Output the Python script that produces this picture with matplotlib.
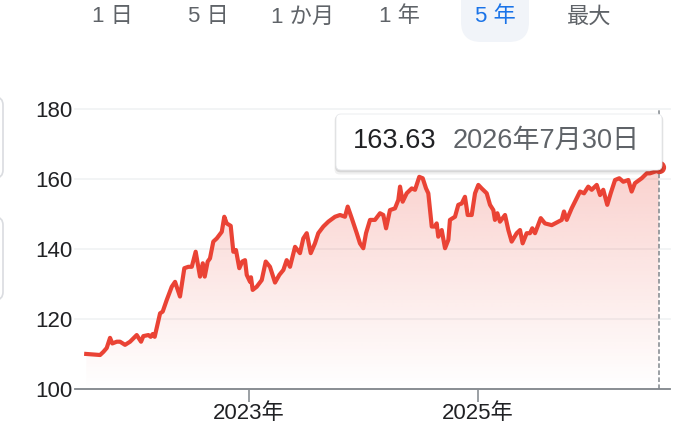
import numpy as np
import matplotlib
matplotlib.use('Agg')
import matplotlib.pyplot as plt
from matplotlib.patches import Polygon, FancyBboxPatch

plt.rcParams['font.family'] = ['Liberation Sans', 'Noto Sans CJK JP']

# price history (decimal year, value)
years = [
    2021.578, 2021.699, 2021.728, 2021.757, 2021.786, 2021.806, 2021.845, 2021.873,
    2021.917, 2021.961, 2022.019, 2022.057, 2022.077, 2022.121, 2022.141, 2022.159,
    2022.176, 2022.223, 2022.246, 2022.281, 2022.325, 2022.354, 2022.397, 2022.435,
    2022.470, 2022.500, 2022.534, 2022.572, 2022.596, 2022.613, 2022.639, 2022.659,
    2022.688, 2022.718, 2022.762, 2022.784, 2022.805, 2022.840, 2022.863, 2022.886,
    2022.915, 2022.941, 2022.965, 2022.980, 2023.009, 2023.017, 2023.032, 2023.067,
    2023.111, 2023.146, 2023.183, 2023.227, 2023.265, 2023.300, 2023.329, 2023.358,
    2023.402, 2023.445, 2023.474, 2023.504, 2023.539, 2023.576, 2023.605, 2023.649,
    2023.693, 2023.751, 2023.795, 2023.838, 2023.862, 2023.897, 2023.941, 2023.969,
    2023.998, 2024.022, 2024.057, 2024.100, 2024.144, 2024.173, 2024.197, 2024.231,
    2024.275, 2024.304, 2024.319, 2024.342, 2024.377, 2024.421, 2024.450, 2024.487,
    2024.517, 2024.546, 2024.566, 2024.596, 2024.624, 2024.639, 2024.653, 2024.683,
    2024.712, 2024.741, 2024.755, 2024.799, 2024.828, 2024.858, 2024.886, 2024.910,
    2024.945, 2024.974, 2025.003, 2025.032, 2025.076, 2025.105, 2025.134, 2025.148,
    2025.169, 2025.192, 2025.236, 2025.265, 2025.294, 2025.338, 2025.367, 2025.390,
    2025.425, 2025.454, 2025.474, 2025.498, 2025.548, 2025.585, 2025.644, 2025.701,
    2025.731, 2025.751, 2025.775, 2025.818, 2025.847, 2025.891, 2025.926, 2025.963,
    2025.993, 2026.037, 2026.066, 2026.094, 2026.129, 2026.159, 2026.197, 2026.234,
    2026.269, 2026.313, 2026.342, 2026.371, 2026.430, 2026.474, 2026.502, 2026.546,
    2026.578,
]
prices = [
    110.1, 109.8, 110.7, 111.8, 114.7, 113.1, 113.6, 113.6,
    112.7, 113.6, 115.5, 113.6, 115.2, 115.5, 115.0, 115.8,
    115.0, 121.7, 122.2, 125.5, 129.3, 130.7, 126.5, 134.6,
    135.0, 135.0, 139.3, 132.2, 136.0, 132.2, 136.5, 137.4,
    142.2, 143.1, 145.0, 149.3, 147.4, 146.7, 139.3, 139.8,
    134.6, 136.5, 136.9, 132.7, 130.7, 132.0, 128.4, 129.3,
    131.2, 136.5, 135.0, 130.5, 132.7, 134.1, 136.9, 135.0,
    140.7, 138.9, 143.1, 144.6, 138.9, 141.7, 144.6, 146.5,
    147.9, 149.3, 149.8, 149.3, 152.2, 148.9, 144.6, 141.7,
    140.3, 144.6, 148.4, 148.4, 150.3, 149.8, 146.0, 151.2,
    151.7, 154.1, 157.9, 153.6, 156.0, 157.4, 157.0, 160.7,
    160.3, 157.4, 156.0, 146.5, 146.5, 147.4, 143.6, 145.5,
    140.3, 142.7, 148.4, 149.3, 152.7, 153.1, 155.0, 149.8,
    149.8, 156.0, 158.4, 157.4, 156.0, 152.7, 151.2, 148.4,
    150.3, 147.9, 149.8, 145.5, 142.2, 144.6, 145.5, 141.7,
    144.6, 144.6, 146.0, 144.6, 148.9, 147.4, 146.9, 147.9,
    148.4, 150.8, 148.4, 151.7, 153.6, 156.5, 156.0, 157.9,
    157.0, 158.4, 155.5, 157.0, 152.7, 156.0, 159.8, 160.3,
    159.3, 159.8, 156.5, 158.9, 160.3, 161.7, 161.7, 162.2,
    163.63,
]
y_ticks = [100, 120, 140, 160, 180]
x_ticks = [2023, 2025]
x_labels = ['2023年', '2025年']
range_tabs = ['1 日', '5 日', '1 か月', '1 年', '5 年', '最大']
active_tab = '5 年'
last_price = '163.63'
last_date = '2026年7月30日'

RED = '#ea4335'
GREY = '#80868b'
TEXT = '#202124'
SUB = '#5f6368'
W, H = 684, 436

fig = plt.figure(figsize=(W / 100, H / 100), dpi=100)
fig.patch.set_facecolor('white')

# chart axes
ax = fig.add_axes([75 / W, (H - 389.3) / H, 595 / W, 280 / H])
ax.set_xlim(2021.480, 2026.677)
ax.set_ylim(100, 180)
ax.set_facecolor('none')

yrs = np.array(years)
vals = np.array(prices)

# gradient fill under the line
grad = np.zeros((256, 1, 4))
grad[..., :3] = matplotlib.colors.to_rgb(RED)
gy = np.linspace(100, 180, 256)
grad[:, 0, 3] = np.clip(0.25 * (gy - 100) / 65, 0, 0.3)
im = ax.imshow(grad, extent=[yrs[0], yrs[-1], 100, 180], origin='lower',
               aspect='auto', interpolation='bilinear', zorder=1)
poly = Polygon(np.vstack([np.column_stack([yrs, vals]),
                          [[yrs[-1], 100], [yrs[0], 100]]]),
               closed=True, facecolor='none', edgecolor='none')
ax.add_patch(poly)
im.set_clip_path(poly)

ax.axvline(yrs[-1], color=GREY, lw=1.1, ls=(0, (3, 1.6)), zorder=2)
ax.plot(yrs, vals, color=RED, lw=3.0, solid_joinstyle='round', zorder=3)
ax.plot(yrs[-1], vals[-1], 'o', color=RED, ms=8.5, zorder=4, clip_on=False)

ax.set_yticks(y_ticks)
ax.set_xticks(x_ticks)
ax.set_xticklabels(x_labels)
ax.yaxis.grid(True, color='#f1f3f4', lw=1.3)
for gl in ax.get_ygridlines():
    gl.set_clip_on(False)
ax.set_axisbelow(True)
for s in ['left', 'right', 'top']:
    ax.spines[s].set_visible(False)
ax.spines['bottom'].set_color(GREY)
ax.spines['bottom'].set_linewidth(1.3)
ax.spines['bottom'].set_zorder(5)
ax.tick_params(axis='y', length=0, pad=2, labelsize=16, labelcolor=TEXT)
ax.tick_params(axis='x', length=9, width=1.1, color=GREY, pad=1,
               labelsize=16, labelcolor=TEXT)

# overlay for UI pieces (pixel coords)
ui = fig.add_axes([0, 0, 1, 1], zorder=10)
ui.set_xlim(0, W)
ui.set_ylim(H, 0)
ui.axis('off')
ui.patch.set_visible(False)

# range tabs
tab_x = [112, 208, 303, 399, 495, 589]
ui.add_patch(FancyBboxPatch((461, -20), 68, 62, boxstyle='round,pad=0,rounding_size=20',
                            facecolor='#f1f4f9', edgecolor='none'))
for lbl, tx in zip(range_tabs, tab_x):
    ui.text(tx, 17, lbl, ha='center', va='center', fontsize=16,
            color='#1a73e8' if lbl == active_tab else SUB)

# partly hidden side buttons
for y0, y1 in [(97, 178), (217, 300)]:
    ui.add_patch(FancyBboxPatch((-20, y0), 23, y1 - y0, boxstyle='round,pad=0,rounding_size=8',
                                facecolor='white', edgecolor='#dadce0', lw=1.2))

# tooltip
for off, a in [(3, 0.06), (1.5, 0.10)]:
    ui.add_patch(FancyBboxPatch((336 - off / 2, 114 + off / 2), 326 + off, 56 + off,
                                boxstyle='round,pad=0,rounding_size=5',
                                facecolor='black', edgecolor='none', alpha=a))
ui.add_patch(FancyBboxPatch((336, 114), 326, 56, boxstyle='round,pad=0,rounding_size=5',
                            facecolor='white', edgecolor='#e8eaed', lw=0.6))
ui.text(353, 141, last_price, ha='left', va='center', fontsize=19.5, color=TEXT)
ui.text(453, 141, last_date, ha='left', va='center', fontsize=19.5, color=SUB)

fig.savefig('out.png', dpi=100, facecolor='white')
